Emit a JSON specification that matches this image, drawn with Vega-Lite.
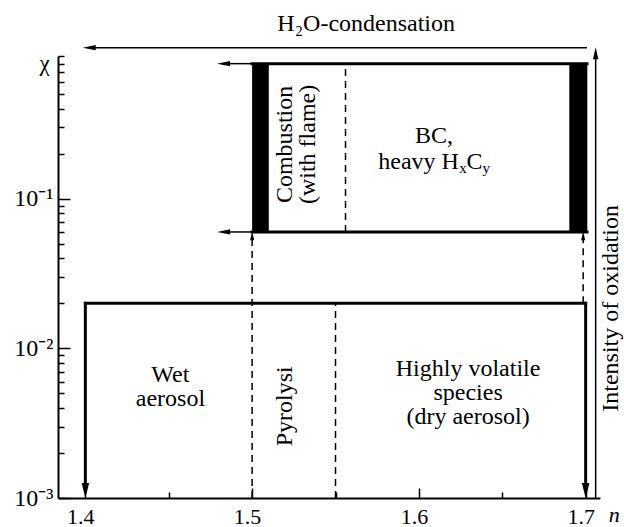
{
  "$schema": "https://vega.github.io/schema/vega-lite/v6.json",
  "width": 542,
  "height": 442,
  "autosize": {"type": "none"},
  "padding": {"left": 58, "top": 56, "right": 24, "bottom": 29},
  "background": "white",
  "config": {"view": {"stroke": null}, "text": {"font": "Liberation Serif, Times New Roman, serif"}},
  "encoding": {
    "x": {
      "field": "n", "type": "quantitative",
      "scale": {"domain": [1.3836, 1.7086], "nice": false, "zero": false},
      "axis": {
        "title": null,
        "grid": false,
        "values": [1.4, 1.45, 1.5, 1.55, 1.6, 1.65, 1.7],
        "labelExpr": "abs(datum.value*10 - round(datum.value*10)) < 0.01 ? format(datum.value, '.1f') : ''",
        "tickSize": {"condition": {"test": "abs(datum.value*10 - round(datum.value*10)) < 0.01", "value": -10}, "value": -6},
        "labelPadding": 18,
        "labelOffset": -5,
        "labelFont": "Liberation Serif, Times New Roman, serif",
        "labelFontSize": 22,
        "labelColor": "black",
        "domainColor": "black",
        "domainWidth": 2,
        "tickColor": "black",
        "tickWidth": 1.5,
        "labelOverlap": false,
        "labelFlush": false,
        "labelBound": false
      }
    },
    "y": {
      "field": "c", "type": "quantitative",
      "scale": {"type": "log", "domain": [0.001, 0.9], "nice": false},
      "axis": {
        "title": null,
        "grid": false,
        "values": [0.001, 0.002, 0.003, 0.004, 0.005, 0.006, 0.007, 0.008, 0.009, 0.01, 0.02, 0.03, 0.04, 0.05, 0.06, 0.07, 0.08, 0.09, 0.1, 0.2, 0.3, 0.4, 0.5, 0.6, 0.7, 0.8, 0.9],
        "labelExpr": "datum.value == 0.1 ? '10⁻¹' : datum.value == 0.01 ? '10⁻²' : datum.value == 0.001 ? '10⁻³' : ''",
        "tickSize": {"condition": {"test": "datum.value == 0.1 || datum.value == 0.01 || datum.value == 0.001", "value": -12}, "value": -6},
        "labelPadding": 17,
        "labelFont": "Liberation Serif, Times New Roman, serif",
        "labelFontSize": 24,
        "labelColor": "black",
        "domainColor": "black",
        "domainWidth": 2,
        "tickColor": "black",
        "tickWidth": 1.5,
        "labelOverlap": false,
        "labelFlush": false,
        "labelBound": false
      }
    }
  },
  "layer": [
    {
      "data": {"values": [
        {"n": 1.5, "n2": 1.51, "c": 0.06, "c2": 0.8},
        {"n": 1.6902, "n2": 1.701, "c": 0.06, "c2": 0.8}
      ]},
      "mark": {"type": "rect", "color": "black"},
      "encoding": {"x2": {"field": "n2"}, "y2": {"field": "c2"}}
    },
    {
      "data": {"values": [
        {"n": 1.5, "n2": 1.7008, "c": 0.8, "c2": 0.8},
        {"n": 1.5, "n2": 1.7008, "c": 0.06, "c2": 0.06},
        {"n": 1.4, "n2": 1.7, "c": 0.02, "c2": 0.02},
        {"n": 1.4, "n2": 1.4, "c": 0.02, "c2": 0.0012},
        {"n": 1.7, "n2": 1.7, "c": 0.02, "c2": 0.0012}
      ]},
      "mark": {"type": "rule", "color": "black", "strokeWidth": 3, "strokeCap": "square"},
      "encoding": {"x2": {"field": "n2"}, "y2": {"field": "c2"}}
    },
    {
      "data": {"values": [
        {"n": 1.482, "n2": 1.5, "c": 0.8, "c2": 0.8},
        {"n": 1.482, "n2": 1.5, "c": 0.06, "c2": 0.06},
        {"n": 1.402, "n2": 1.7008, "c": 1.023, "c2": 1.023},
        {"n": 1.706, "n2": 1.706, "c": 0.001, "c2": 0.95}
      ]},
      "mark": {"type": "rule", "color": "black", "strokeWidth": 1.5},
      "encoding": {"x2": {"field": "n2"}, "y2": {"field": "c2"}}
    },
    {
      "data": {"values": [
        {"n": 1.556, "n2": 1.556, "c": 0.06, "c2": 0.8},
        {"n": 1.5, "n2": 1.5, "c": 0.001, "c2": 0.056},
        {"n": 1.55, "n2": 1.55, "c": 0.001, "c2": 0.02},
        {"n": 1.6985, "n2": 1.6985, "c": 0.02, "c2": 0.056}
      ]},
      "mark": {"type": "rule", "color": "black", "strokeWidth": 1.5, "strokeDash": [7, 5]},
      "encoding": {"x2": {"field": "n2"}, "y2": {"field": "c2"}}
    },
    {
      "data": {"values": [
        {"n": 1.4, "c": 0.001122},
        {"n": 1.7, "c": 0.001122}
      ]},
      "mark": {"type": "point", "shape": "M-0.5,-1L0.5,-1L0,1Z", "filled": true, "color": "black", "opacity": 1, "size": 225, "strokeWidth": 0}
    },
    {
      "data": {"values": [
        {"n": 1.4829, "c": 0.8},
        {"n": 1.4829, "c": 0.06},
        {"n": 1.4023, "c": 1.023}
      ]},
      "mark": {"type": "point", "shape": "M1,-0.4L1,0.4L-1,0Z", "filled": true, "color": "black", "opacity": 1, "size": 169, "strokeWidth": 0}
    },
    {
      "data": {"values": [
        {"n": 1.706, "c": 0.938}
      ]},
      "mark": {"type": "point", "shape": "M-0.45,1L0.45,1L0,-1Z", "filled": true, "color": "black", "opacity": 1, "size": 144, "strokeWidth": 0}
    },
    {
      "data": {"values": [
        {"n": 1.5, "c": 0.0566},
        {"n": 1.6985, "c": 0.0566}
      ]},
      "mark": {"type": "point", "shape": "M-0.45,1L0.45,1L0,-1Z", "filled": true, "color": "black", "opacity": 1, "size": 81, "strokeWidth": 0}
    },
    {
      "data": {"values": [
        {"t": ["Wet", "aerosol"], "n": 1.451, "c": 0.0066},
        {"t": ["Highly volatile", "species", "(dry aerosol)"], "n": 1.6295, "c": 0.00727},
        {"t": "H₂O-condensation", "n": 1.5684, "c": 1.466},
        {"t": "BC,", "n": 1.6091, "c": 0.262}
      ]},
      "mark": {"type": "text", "fontSize": 24, "color": "black", "align": "center", "baseline": "middle", "lineHeight": 24},
      "encoding": {"text": {"field": "t", "type": "nominal"}}
    },
    {
      "data": {"values": [
        {"t": ["Combustion", "(with flame)"], "n": 1.5196, "c": 0.2307},
        {"t": "Pyrolysi", "n": 1.52, "c": 0.0041},
        {"t": "Intensity of oxidation", "n": 1.7152, "c": 0.0185}
      ]},
      "mark": {"type": "text", "fontSize": 24, "color": "black", "align": "center", "baseline": "middle", "lineHeight": 23, "angle": 270},
      "encoding": {"text": {"field": "t", "type": "nominal"}}
    },
    {
      "data": {"values": [
        {"t": "heavy H", "n": 1.624, "c": 0.158}
      ]},
      "mark": {"type": "text", "fontSize": 24, "color": "black", "align": "right", "baseline": "alphabetic"},
      "encoding": {"text": {"field": "t", "type": "nominal"}}
    },
    {
      "data": {"values": [
        {"t": "C", "n": 1.6285, "c": 0.158}
      ]},
      "mark": {"type": "text", "fontSize": 24, "color": "black", "align": "left", "baseline": "alphabetic"},
      "encoding": {"text": {"field": "t", "type": "nominal"}}
    },
    {
      "data": {"values": [
        {"t": "x", "n": 1.6242, "c": 0.158},
        {"t": "y", "n": 1.6382, "c": 0.158}
      ]},
      "mark": {"type": "text", "fontSize": 15, "color": "black", "align": "left", "baseline": "alphabetic", "dy": 4},
      "encoding": {"text": {"field": "t", "type": "nominal"}}
    },
    {
      "data": {"values": [
        {"t": "n", "n": 1.7172, "c": 0.00077}
      ]},
      "mark": {"type": "text", "fontSize": 22, "fontStyle": "italic", "color": "black", "align": "center", "baseline": "middle"},
      "encoding": {"text": {"field": "t", "type": "nominal"}}
    },
    {
      "data": {"values": [
        {"t": "χ", "n": 1.3756, "c": 0.791}
      ]},
      "mark": {"type": "text", "fontSize": 23, "color": "black", "align": "center", "baseline": "middle"},
      "encoding": {"text": {"field": "t", "type": "nominal"}}
    }
  ]
}
